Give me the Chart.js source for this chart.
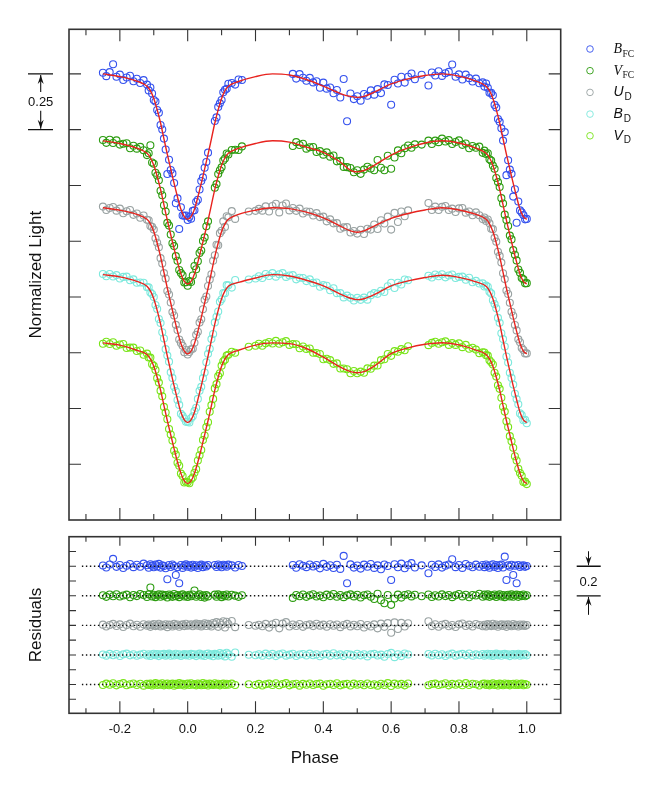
<!DOCTYPE html>
<html><head><meta charset="utf-8">
<script src="https://cdn.jsdelivr.net/npm/chart.js@4.4.0/dist/chart.umd.min.js"></script>
<style>
html,body{margin:0;padding:0;background:#fff;}
#wrap{position:relative;width:662px;height:790px;overflow:hidden;background:#fff;}
canvas{position:absolute;left:0;}
#c1{top:0;} #c2{top:525px;}
</style></head><body>
<div id="wrap"><canvas id="c1" width="662" height="525"></canvas><canvas id="c2" width="662" height="265"></canvas></div>
<script>
// ---------------- DATA ----------------
const xMajorTicks = [-0.2,0,0.2,0.4,0.6,0.8,1.0];
const xMinorTicks = [-0.3,-0.1,0.1,0.3,0.5,0.7,0.9];
const xTickLabels = ['-0.2','0.0','0.2','0.4','0.6','0.8','1.0'];
const yTicksTop = [1.0,0.75,0.5,0.25,0,-0.25,-0.5,-0.75];
const yTicksRes = [-0.1,0,0.1,0.2,0.3,0.4,0.5,0.6,0.7,0.8,0.9];
const resOffsets = [0.8,0.6,0.4,0.2,0.0];
const legendMain = ['B','V','U','B','V'];
const legendSub = ['FC','FC','D','D','D'];
const RES_UNIT = 0.001; // residual arrays are in thousandths

// model light curves
const modelPh = [-0.25,-0.2,-0.15,-0.12,-0.11,-0.10,-0.09,-0.08,-0.07,-0.06,-0.05,-0.04,-0.03,-0.02,-0.01,0,0.01,0.02,0.03,0.04,0.05,0.06,0.07,0.08,0.09,0.10,0.11,0.12,0.15,0.2,0.25,0.3,0.35,0.4,0.45,0.48,0.5,0.52,0.55,0.6,0.65,0.7,0.75,0.8,0.85,0.88,0.89,0.90,0.91,0.92,0.93,0.94,0.95,0.96,0.97,0.98,0.99,1.0];
const bfcModel = [1.000,0.988,0.968,0.945,0.925,0.890,0.840,0.780,0.709,0.639,0.574,0.509,0.448,0.393,0.360,0.348,0.360,0.393,0.448,0.509,0.574,0.639,0.709,0.780,0.840,0.890,0.925,0.945,0.966,0.988,1.000,0.995,0.975,0.945,0.912,0.899,0.895,0.899,0.918,0.955,0.978,0.993,1.000,0.990,0.968,0.945,0.925,0.890,0.840,0.780,0.709,0.639,0.574,0.509,0.448,0.393,0.360,0.348];
const vfcModel = [0.700,0.688,0.667,0.644,0.624,0.590,0.541,0.482,0.413,0.343,0.279,0.216,0.156,0.103,0.070,0.058,0.070,0.103,0.156,0.216,0.279,0.343,0.413,0.482,0.541,0.590,0.624,0.644,0.666,0.688,0.700,0.694,0.672,0.648,0.605,0.568,0.561,0.567,0.590,0.636,0.668,0.690,0.700,0.690,0.667,0.644,0.624,0.590,0.541,0.482,0.413,0.343,0.279,0.216,0.156,0.103,0.070,0.058];
const udModel = [0.400,0.389,0.370,0.348,0.328,0.293,0.242,0.181,0.110,0.039,-0.027,-0.093,-0.154,-0.209,-0.243,-0.255,-0.243,-0.209,-0.154,-0.093,-0.027,0.039,0.110,0.181,0.242,0.293,0.328,0.348,0.370,0.389,0.400,0.396,0.380,0.355,0.318,0.296,0.290,0.296,0.318,0.352,0.374,0.390,0.400,0.390,0.370,0.348,0.328,0.293,0.242,0.181,0.110,0.039,-0.027,-0.093,-0.154,-0.209,-0.243,-0.255];
const bdModel = [0.100,0.090,0.070,0.048,0.027,-0.008,-0.060,-0.121,-0.193,-0.265,-0.332,-0.399,-0.460,-0.517,-0.551,-0.563,-0.551,-0.517,-0.460,-0.399,-0.332,-0.265,-0.193,-0.121,-0.060,-0.008,0.027,0.048,0.065,0.085,0.100,0.094,0.075,0.050,0.013,-0.006,-0.012,-0.008,0.010,0.050,0.072,0.087,0.097,0.088,0.068,0.048,0.027,-0.008,-0.060,-0.121,-0.193,-0.265,-0.332,-0.399,-0.460,-0.517,-0.551,-0.563];
const vdModel = [-0.206,-0.216,-0.239,-0.258,-0.278,-0.311,-0.360,-0.418,-0.487,-0.555,-0.618,-0.681,-0.740,-0.791,-0.825,-0.837,-0.825,-0.791,-0.740,-0.681,-0.618,-0.555,-0.487,-0.418,-0.360,-0.311,-0.278,-0.258,-0.239,-0.216,-0.206,-0.209,-0.231,-0.270,-0.315,-0.335,-0.340,-0.335,-0.310,-0.254,-0.228,-0.212,-0.205,-0.215,-0.238,-0.258,-0.278,-0.311,-0.360,-0.418,-0.487,-0.555,-0.618,-0.681,-0.740,-0.791,-0.825,-0.837];

// FC observations
const fcPh = [-0.25,-0.24,-0.23,-0.22,-0.21,-0.20,-0.19,-0.18,-0.17,-0.16,-0.15,-0.14,-0.13,-0.12,
-0.115,-0.11,-0.105,-0.10,-0.095,-0.09,-0.085,-0.08,-0.075,-0.07,-0.065,-0.06,-0.055,-0.05,-0.045,-0.04,-0.035,-0.03,-0.025,-0.02,-0.015,-0.01,-0.005,0,
0.005,0.01,0.015,0.02,0.025,0.03,0.035,0.04,0.045,0.05,0.055,0.06,
0.08,0.085,0.09,0.095,0.10,0.105,0.11,0.115,0.12,0.13,0.14,0.15,0.16,
0.31,0.32,0.33,0.34,0.35,0.36,0.37,0.38,0.39,0.40,0.41,0.42,0.43,0.44,0.45,0.46,0.47,0.48,0.49,0.50,0.51,0.52,0.53,0.54,0.55,0.56,0.57,0.58,0.59,0.60,0.61,0.62,0.63,0.64,0.65,0.66,0.67,
0.69,
0.71,0.72,0.73,0.74,0.75,0.76,0.77,0.78,0.79,0.80,0.81,0.82,0.83,0.84,0.85,0.86,0.87,
0.875,0.88,0.885,0.89,0.895,0.90,0.905,0.91,0.915,0.92,0.925,0.93,0.935,0.94,0.945,0.95,0.955,0.96,0.965,0.97,0.975,0.98,0.985,0.99,0.995,1.0];
const bfcObs = [1.005,0.990,1.008,1.043,0.987,0.997,0.973,0.984,0.992,0.967,0.978,0.959,0.972,0.952,
0.926,0.939,0.912,0.883,0.876,0.838,0.826,0.771,0.751,0.710,0.661,0.551,0.615,0.569,0.554,0.511,0.420,0.442,0.305,0.402,0.365,0.364,0.365,0.345,
0.358,0.351,0.386,0.389,0.427,0.436,0.482,0.520,0.536,0.579,0.605,0.647,
0.789,0.805,0.852,0.868,0.883,0.918,0.929,0.933,0.956,0.959,0.952,0.975,0.973,
1.000,0.979,0.999,0.983,0.969,0.982,0.962,0.967,0.938,0.961,0.934,0.939,0.913,0.928,0.894,0.977,0.788,0.912,0.887,0.900,0.880,0.910,0.902,0.926,0.907,0.932,0.914,0.953,0.950,0.862,0.974,0.957,0.987,0.961,0.987,1.002,0.976,
0.996,
0.948,1.006,0.993,1.012,0.991,1.003,1.009,1.042,0.987,0.998,0.975,0.997,0.981,0.966,0.979,0.958,0.962,
0.943,0.957,0.938,0.915,0.915,0.904,0.861,0.849,0.798,0.785,0.756,0.701,0.739,0.546,0.613,0.571,0.552,0.450,0.483,0.333,0.428,0.388,0.379,0.367,0.348,0.350];
const vfcObs = [0.704,0.691,0.705,0.690,0.702,0.683,0.687,0.689,0.667,0.678,0.665,0.673,0.658,0.636,
0.644,0.680,0.603,0.597,0.557,0.544,0.523,0.476,0.456,0.411,0.383,0.332,0.320,0.280,0.241,0.228,0.183,0.162,0.121,0.107,0.097,0.065,0.066,0.050,
0.071,0.067,0.096,0.139,0.124,0.160,0.197,0.208,0.251,0.267,0.317,0.339,
0.490,0.506,0.551,0.568,0.581,0.612,0.621,0.643,0.639,0.659,0.660,0.659,0.675,
0.677,0.694,0.681,0.687,0.665,0.671,0.672,0.650,0.654,0.638,0.648,0.629,0.634,0.608,0.610,0.583,0.582,0.578,0.559,0.568,0.552,0.571,0.584,0.576,0.568,0.614,0.579,0.568,0.633,0.575,0.625,0.657,0.644,0.667,0.679,0.669,0.684,
0.683,
0.701,0.686,0.701,0.694,0.710,0.697,0.703,0.686,0.695,0.702,0.682,0.688,0.667,0.677,0.669,0.674,0.646,
0.656,0.641,0.644,0.617,0.611,0.589,0.575,0.533,0.515,0.493,0.443,0.419,0.369,0.345,0.318,0.275,0.258,0.210,0.189,0.164,0.123,0.108,0.085,0.079,0.061,0.062];
const bfcRes = [5,-8,12,50,-4,9,-12,3,15,-6,10,-3,18,7,
-10,14,4,-7,11,-2,16,-9,6,1,-13,-88,8,-5,12,2,-59,-6,-115,9,-11,4,13,-3,
6,-9,10,-4,7,-12,3,11,-6,5,-2,8,
9,-5,12,3,-7,10,4,-3,11,6,-8,9,2,
8,-10,14,3,-6,12,-2,9,-14,16,-4,7,-12,10,-18,70,-115,13,-9,5,-16,11,-3,15,-11,6,-20,12,2,-93,14,-7,18,-13,9,21,-8,
6,
-47,10,-5,13,-9,4,12,47,-6,8,-11,15,3,-7,11,-3,9,
-6,12,2,-10,7,14,-4,9,-12,5,11,-8,65,-93,6,-3,10,-59,4,-115,8,-5,3,7,-4,2];
const vfcRes = [4,-7,9,-3,11,-5,2,8,-10,6,-2,12,5,-8,
10,56,-4,7,-9,3,11,-6,8,-2,5,-11,9,1,-7,12,-3,6,-9,4,10,-5,2,-8,
7,-3,9,36,-6,4,11,-8,3,-12,6,-4,
8,-6,10,2,-9,5,-3,9,-5,7,1,-7,4,
-14,6,-3,9,-7,4,11,-5,2,-10,8,-2,12,-6,5,-9,3,10,-4,7,-11,4,9,-6,-22,14,-30,-50,6,-61,-18,8,-12,5,11,-4,7,
-3,
9,-8,4,-5,10,-2,6,-9,3,12,-4,7,-10,5,2,14,-6,
8,-3,10,-7,4,-1,9,-8,3,11,-5,6,-9,2,7,-4,10,-6,3,8,-7,5,-2,9,-3,4];

// D observations
const dPh = [-0.25,-0.24,-0.23,-0.22,-0.21,-0.20,-0.19,-0.18,-0.17,-0.16,-0.15,-0.14,-0.13,-0.12,
-0.115,-0.11,-0.105,-0.10,-0.095,-0.09,-0.085,-0.08,-0.075,-0.07,-0.065,-0.06,-0.055,-0.05,-0.045,-0.04,-0.035,-0.03,-0.025,-0.02,-0.015,-0.01,-0.005,0,
0.005,0.01,0.015,0.02,0.025,0.03,0.035,0.04,0.045,0.05,0.055,0.06,0.065,0.07,0.075,0.08,0.085,0.09,0.095,0.10,0.105,0.11,0.115,0.12,
0.13,0.14,0.18,0.20,
0.21,0.22,0.23,0.24,0.25,0.26,0.27,0.28,0.29,0.30,0.31,0.32,0.33,0.34,0.35,0.36,0.37,0.38,0.39,0.40,0.41,0.42,0.43,0.44,0.45,0.46,0.47,0.48,0.49,0.50,0.51,0.52,0.53,0.54,0.55,0.56,0.57,0.58,0.59,0.60,0.61,0.62,0.63,0.64,0.65,
0.71,0.72,0.73,0.74,0.75,0.76,0.77,0.78,0.79,0.80,0.81,0.82,0.83,0.84,0.85,0.86,0.87,
0.875,0.88,0.885,0.89,0.895,0.90,0.905,0.91,0.915,0.92,0.925,0.93,0.935,0.94,0.945,0.95,0.955,0.96,0.965,0.97,0.975,0.98,0.985,0.99,0.995,1.0];
const udObs = [0.405,0.390,0.399,0.403,0.387,0.396,0.375,0.384,0.390,0.368,0.374,0.355,0.365,0.346,
0.344,0.318,0.314,0.302,0.263,0.243,0.223,0.174,0.150,0.107,0.083,0.027,0.011,-0.025,-0.068,-0.083,-0.125,-0.148,-0.191,-0.206,-0.219,-0.248,-0.238,-0.258,
-0.247,-0.235,-0.232,-0.205,-0.170,-0.156,-0.115,-0.100,-0.055,-0.013,0.002,0.049,0.078,0.102,0.162,0.187,0.234,0.232,0.286,0.297,0.339,0.314,0.362,0.357,
0.385,0.350,0.383,0.386,
0.395,0.387,0.406,0.383,0.408,0.418,0.379,0.410,0.419,0.388,0.399,0.386,0.396,0.374,0.383,0.382,0.365,0.376,0.358,0.360,0.339,0.348,0.330,0.331,0.306,0.312,0.313,0.289,0.296,0.284,0.301,0.282,0.306,0.302,0.325,0.305,0.344,0.329,0.360,0.302,0.377,0.336,0.383,0.362,0.388,
0.421,0.390,0.405,0.390,0.404,0.408,0.390,0.396,0.381,0.397,0.399,0.378,0.383,0.366,0.379,0.366,0.349,
0.356,0.341,0.347,0.330,0.306,0.304,0.265,0.248,0.203,0.184,0.154,0.106,0.080,0.029,0.013,-0.026,-0.066,-0.084,-0.126,-0.150,-0.190,-0.203,-0.229,-0.238,-0.253,-0.253];
const bdObs = [0.103,0.093,0.103,0.092,0.098,0.083,0.090,0.091,0.075,0.079,0.064,0.065,0.064,0.044,
0.043,0.020,0.013,0.000,-0.036,-0.054,-0.099,-0.117,-0.158,-0.186,-0.234,-0.263,-0.290,-0.338,-0.363,-0.403,-0.422,-0.462,-0.484,-0.524,-0.533,-0.545,-0.560,-0.559,
-0.563,-0.544,-0.535,-0.512,-0.497,-0.457,-0.421,-0.403,-0.364,-0.339,-0.293,-0.255,-0.232,-0.189,-0.166,-0.114,-0.089,-0.065,-0.022,-0.010,0.018,0.017,0.053,0.052,
0.042,0.076,0.078,0.083,
0.093,0.085,0.103,0.094,0.107,0.091,0.102,0.107,0.090,0.096,0.098,0.079,0.086,0.085,0.071,0.079,0.063,0.065,0.046,0.053,0.050,0.030,0.039,0.017,0.017,-0.002,0.006,-0.004,-0.016,-0.004,-0.013,-0.003,-0.012,0.008,0.017,0.014,0.028,0.022,0.048,0.064,0.040,0.064,0.056,0.078,0.075,
0.095,0.087,0.101,0.093,0.102,0.088,0.096,0.101,0.085,0.090,0.091,0.077,0.086,0.066,0.072,0.060,0.061,
0.047,0.051,0.046,0.023,0.016,-0.015,-0.032,-0.051,-0.094,-0.116,-0.163,-0.189,-0.222,-0.267,-0.294,-0.340,-0.363,-0.393,-0.434,-0.458,-0.481,-0.522,-0.530,-0.553,-0.551,-0.566];
const vdObs = [-0.210,-0.201,-0.211,-0.203,-0.219,-0.213,-0.211,-0.229,-0.227,-0.227,-0.242,-0.240,-0.259,-0.254,
-0.271,-0.272,-0.302,-0.309,-0.327,-0.364,-0.384,-0.420,-0.445,-0.493,-0.518,-0.548,-0.592,-0.617,-0.644,-0.689,-0.707,-0.743,-0.757,-0.792,-0.803,-0.832,-0.829,-0.831,
-0.835,-0.817,-0.810,-0.788,-0.772,-0.733,-0.710,-0.686,-0.641,-0.621,-0.583,-0.562,-0.515,-0.485,-0.457,-0.410,-0.391,-0.355,-0.342,-0.308,-0.288,-0.281,-0.263,-0.259,
-0.246,-0.250,-0.223,-0.219,
-0.210,-0.219,-0.208,-0.202,-0.209,-0.197,-0.210,-0.203,-0.198,-0.215,-0.211,-0.212,-0.230,-0.222,-0.233,-0.231,-0.250,-0.251,-0.256,-0.279,-0.277,-0.283,-0.300,-0.298,-0.321,-0.321,-0.324,-0.342,-0.332,-0.342,-0.335,-0.340,-0.320,-0.322,-0.308,-0.307,-0.283,-0.279,-0.256,-0.264,-0.243,-0.246,-0.234,-0.239,-0.221,
-0.216,-0.206,-0.201,-0.210,-0.203,-0.199,-0.215,-0.207,-0.215,-0.208,-0.225,-0.215,-0.232,-0.228,-0.236,-0.252,-0.248,
-0.249,-0.261,-0.263,-0.284,-0.293,-0.303,-0.340,-0.357,-0.396,-0.412,-0.452,-0.492,-0.514,-0.557,-0.583,-0.624,-0.647,-0.676,-0.714,-0.733,-0.770,-0.789,-0.802,-0.830,-0.828,-0.839];
const udRes = [5,-8,3,10,-4,7,-11,2,12,-6,4,-9,8,-2,
6,-10,3,9,-5,1,11,-7,4,-3,8,-12,5,2,-8,10,-1,6,-9,3,7,-5,11,-3,
2,8,-6,4,12,-2,9,-7,5,14,-4,10,3,-8,16,6,22,-10,18,4,28,-14,24,9,
30,-12,2,-3,
4,-6,10,-15,8,18,-20,12,22,-8,6,-4,9,-10,3,7,-5,11,-2,5,-9,8,-3,6,-12,2,10,-7,4,-6,9,-14,3,-8,7,-20,12,-10,15,-50,20,-25,17,-8,14,
28,-5,8,-9,4,10,-6,2,-11,7,13,-4,5,-8,9,3,-6,
4,-7,9,2,-5,11,-3,6,-9,3,8,-4,5,-10,7,1,-6,9,-2,4,-8,6,-3,5,-4,2];
const bdRes = [3,-5,7,-2,6,-7,4,9,-3,5,-6,2,8,-4,
5,-7,3,8,-2,6,-8,4,-1,7,-5,2,9,-6,3,-4,8,-2,5,-7,1,6,-3,4,
-6,7,-1,5,-8,3,9,-4,2,-7,6,10,-3,4,-9,7,2,-5,12,-2,8,-10,15,4,
-12,16,1,-2,
5,-6,9,-3,7,-8,4,10,-5,2,8,-7,3,6,-4,9,-2,5,-9,3,7,-5,11,-3,4,-8,6,2,-6,8,-3,5,-10,4,7,-4,2,-12,6,14,-15,5,-8,10,3,
6,-4,8,-2,5,-7,3,9,-5,2,7,-3,10,-6,4,-2,6,
-5,3,8,-4,6,-7,2,9,-3,5,-6,4,7,-2,5,-8,3,6,-4,2,8,-5,4,-2,6,-3];
const vdRes = [-4,6,-2,8,-6,3,9,-5,2,7,-3,5,-8,4,
-3,6,-7,2,9,-4,5,-2,8,-6,3,7,-5,1,6,-8,4,-3,9,-1,5,-7,2,6,
-4,8,-2,3,-6,7,1,-5,9,-3,4,-7,6,2,-4,8,-2,5,-6,3,7,-3,5,-1,
6,-4,2,-3,
4,-7,2,6,-3,8,-5,3,9,-6,2,5,-8,4,-2,7,-4,3,6,-9,2,5,-3,8,-6,1,4,-7,6,-2,3,-5,7,-4,2,-8,5,-3,9,-10,6,-2,4,-6,7,
-5,3,6,-4,2,8,-6,4,-2,7,-5,9,-3,5,2,-7,4,
6,-3,5,-6,2,8,-4,3,-7,6,1,-5,7,-2,4,-6,3,5,-3,7,-4,2,6,-5,3,-2];
const dottedSpan = [-0.312, 1.065];

// ---------------- STYLE ----------------
const colors = ['#3552ee','#2c9c10','#99a2a2','#7de9dd','#78e418'];
const modelColor = '#e8231e';
const SANS = '"Liberation Sans", Arial, Helvetica, sans-serif';
const SERIF = '"Liberation Serif", "Times New Roman", serif';
Chart.defaults.font.family = SANS;

const bands = [
  {ph: fcPh, obs: bfcObs, model: bfcModel, res: bfcRes},
  {ph: fcPh, obs: vfcObs, model: vfcModel, res: vfcRes},
  {ph: dPh,  obs: udObs,  model: udModel,  res: udRes},
  {ph: dPh,  obs: bdObs,  model: bdModel,  res: bdRes},
  {ph: dPh,  obs: vdObs,  model: vdModel,  res: vdRes}
];

function pointSet(data, color, order){
  return {type:'scatter', data, showLine:false, pointStyle:'circle', pointRadius:3.5, pointHoverRadius:3.5,
    borderColor:color, backgroundColor:'rgba(0,0,0,0)', pointBorderWidth:1.1, borderWidth:1.1, order};
}

const topSets = [];
bands.forEach((b,k)=>{
  topSets.push({type:'line', data: modelPh.map((p,i)=>({x:p,y:b.model[i]})), borderColor:modelColor, borderWidth:1.4,
    pointRadius:0, fill:false, cubicInterpolationMode:'monotone', order:0});
  topSets.push(pointSet(b.ph.map((p,i)=>({x:p,y:b.obs[i]})), colors[k], 1+k));
});
const botSets = [];
bands.forEach((b,k)=>{
  botSets.push({type:'line', data: dottedSpan.map(p=>({x:p,y:resOffsets[k]})), borderColor:'#111', borderWidth:1.4,
    borderDash:[1.4,2.6], pointRadius:0, fill:false, order:0});
  botSets.push(pointSet(b.ph.map((p,i)=>({x:p,y:resOffsets[k]+b.res[i]*RES_UNIT})), colors[k], 1+k));
});

function arrow(ctx, x, yFrom, yTo){
  ctx.beginPath(); ctx.moveTo(x,yFrom); ctx.lineTo(x,yTo); ctx.stroke();
  const d = Math.sign(yTo-yFrom);
  ctx.beginPath(); ctx.moveTo(x,yTo); ctx.lineTo(x-3,yTo-d*9); ctx.lineTo(x,yTo-d*6); ctx.lineTo(x+3,yTo-d*9); ctx.closePath(); ctx.fill();
}

function frameAndTicks(chart, o){
  const {ctx, chartArea:ca, scales:{x,y}} = chart;
  ctx.save();
  ctx.strokeStyle = '#333'; ctx.lineWidth = 1.1;
  ctx.beginPath();
  xMajorTicks.forEach(v=>{const px=x.getPixelForValue(v); ctx.moveTo(px,ca.top); ctx.lineTo(px,ca.top+o.topMaj); ctx.moveTo(px,ca.bottom); ctx.lineTo(px,ca.bottom-o.botMaj);});
  xMinorTicks.forEach(v=>{const px=x.getPixelForValue(v); ctx.moveTo(px,ca.top); ctx.lineTo(px,ca.top+o.topMin); ctx.moveTo(px,ca.bottom); ctx.lineTo(px,ca.bottom-o.botMin);});
  o.yTicks.forEach(v=>{const py=y.getPixelForValue(v); ctx.moveTo(ca.left,py); ctx.lineTo(ca.left+o.yLen,py); ctx.moveTo(ca.right,py); ctx.lineTo(ca.right-o.yLen,py);});
  ctx.stroke();
  ctx.lineWidth = 1.6; ctx.strokeStyle = '#333';
  ctx.strokeRect(ca.left, ca.top, ca.right-ca.left, ca.bottom-ca.top);
  ctx.restore();
}

const topPlugin = {
  id:'topDecor',
  afterDraw(chart){
    const {ctx, chartArea:ca, scales:{y}} = chart;
    frameAndTicks(chart, {topMaj:12, topMin:6, botMaj:12, botMin:6, yLen:12, yTicks:yTicksTop});
    ctx.save();
    ctx.fillStyle = '#111'; ctx.strokeStyle = '#111';
    ctx.save(); ctx.translate(36, (ca.top+ca.bottom)/2); ctx.rotate(-Math.PI/2);
    ctx.font = '17px '+SANS; ctx.textAlign='center'; ctx.textBaseline='middle';
    ctx.fillText('Normalized Light', 0, 0); ctx.restore();
    const y1 = y.getPixelForValue(yTicksTop[0]), y2 = y.getPixelForValue(yTicksTop[1]);
    ctx.lineWidth = 1.3;
    ctx.beginPath(); ctx.moveTo(28,y1); ctx.lineTo(53,y1); ctx.moveTo(28,y2); ctx.lineTo(53,y2); ctx.stroke();
    ctx.lineWidth = 1.1;
    arrow(ctx, 40.7, y1+18, y1+1);
    arrow(ctx, 40.7, y2-19, y2-1);
    ctx.font = '13px '+SANS; ctx.textAlign='center'; ctx.textBaseline='middle';
    ctx.fillText('0.25', 40.7, (y1+y2)/2+1);
    const ly = [49, 70.7, 92.4, 114.1, 135.8];
    legendMain.forEach((m,k)=>{
      ctx.beginPath(); ctx.arc(590, ly[k], 3.3, 0, Math.PI*2); ctx.lineWidth=0.9; ctx.strokeStyle=colors[k]; ctx.stroke();
      const serif = legendSub[k]==='FC';
      ctx.fillStyle='#111'; ctx.textAlign='left'; ctx.textBaseline='alphabetic';
      ctx.font = serif ? 'italic 14px '+SERIF : 'italic 14px '+SANS;
      ctx.fillText(m, 613.5, ly[k]+4);
      const w = ctx.measureText(m).width;
      ctx.font = serif ? '9.5px '+SERIF : '10px '+SANS;
      ctx.fillText(legendSub[k], 613.5+w+(serif?0.5:1), ly[k]+7.5);
    });
    ctx.restore();
  }
};

const botPlugin = {
  id:'botDecor',
  afterDraw(chart){
    const {ctx, chartArea:ca, scales:{x,y}} = chart;
    frameAndTicks(chart, {topMaj:9, topMin:5, botMaj:12, botMin:5, yLen:7, yTicks:yTicksRes});
    ctx.save();
    ctx.fillStyle = '#111'; ctx.strokeStyle = '#111';
    ctx.font = '13px '+SANS; ctx.textAlign='center'; ctx.textBaseline='middle';
    xMajorTicks.forEach((v,i)=>ctx.fillText(xTickLabels[i], x.getPixelForValue(v), ca.bottom+16));
    ctx.font = '17px '+SANS;
    ctx.fillText('Phase', (ca.left+ca.right)/2, ca.bottom+45);
    ctx.save(); ctx.translate(36, (ca.top+ca.bottom)/2); ctx.rotate(-Math.PI/2);
    ctx.fillText('Residuals', 0, 0); ctx.restore();
    const y1 = y.getPixelForValue(resOffsets[0]), y2 = y.getPixelForValue(resOffsets[1]);
    ctx.lineWidth = 1.3;
    ctx.beginPath(); ctx.moveTo(576.7,y1); ctx.lineTo(600.7,y1); ctx.moveTo(576.7,y2); ctx.lineTo(600.7,y2); ctx.stroke();
    ctx.lineWidth = 1.0;
    arrow(ctx, 588.5, y1-15, y1-1);
    arrow(ctx, 588.5, y2+19, y2+1);
    ctx.font = '13px '+SANS;
    ctx.fillText('0.2', 588.5, (y1+y2)/2+1);
    ctx.restore();
  }
};

const commonScales = (ymin,ymax)=>({
  x:{type:'linear', min:-0.35, max:1.1, display:false},
  y:{type:'linear', min:ymin, max:ymax, display:false}
});
const commonPlugins = {legend:{display:false}, tooltip:{enabled:false}};

new Chart(document.getElementById('c1'), {
  type:'scatter',
  data:{datasets: topSets},
  options:{responsive:false, animation:false, events:[],
    layout:{padding:{left:69, right:101.3, top:29.3, bottom:5}},
    scales: commonScales(-1.0, 1.2), plugins: commonPlugins},
  plugins:[topPlugin]
});
new Chart(document.getElementById('c2'), {
  type:'scatter',
  data:{datasets: botSets},
  options:{responsive:false, animation:false, events:[],
    layout:{padding:{left:69, right:101.3, top:11.7, bottom:76.7}},
    scales: commonScales(-0.195, 1.0), plugins: commonPlugins},
  plugins:[botPlugin]
});
</script></body></html>
